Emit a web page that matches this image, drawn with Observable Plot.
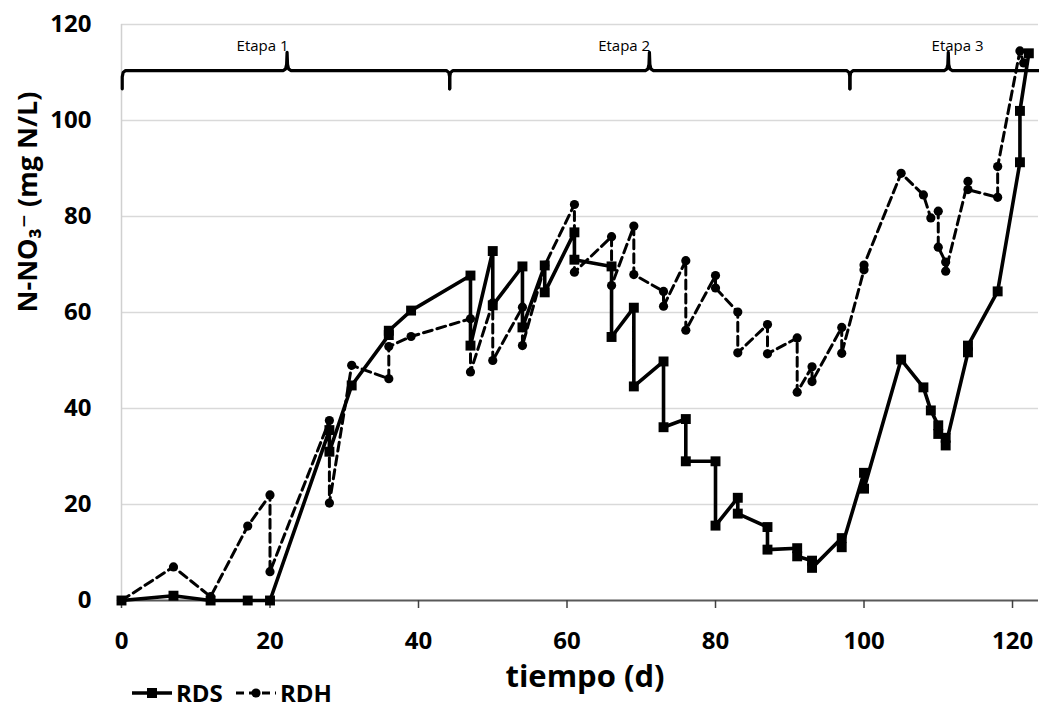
<!DOCTYPE html>
<html>
<head>
<meta charset="utf-8">
<script src="https://cdn.jsdelivr.net/npm/d3@7"></script>
<script src="https://cdn.jsdelivr.net/npm/@observablehq/plot@0.6"></script>
<style>
  body { margin: 0; background: #fff; }
  #wrap { position: relative; width: 1039px; height: 709px; }
  #legend { position: absolute; left: 0; top: 670px; line-height: 0; }
  #legend svg { display: block; overflow: visible; }
</style>
</head>
<body>
<div id="wrap"></div>
<script>
// ---- Data ----
const seriesNames = ["RDS", "RDH"];

const rdsDays = [0, 7, 12, 17, 20, 28, 28, 31, 36, 36, 39, 47, 47, 50, 50, 54, 54, 57, 57, 61, 61, 66, 66, 69, 69, 73, 73, 76, 76, 80, 80, 83, 83, 87, 87, 91, 91, 93, 93, 97, 97, 100, 100, 105, 108, 109, 110, 110, 111, 111, 114, 114, 118, 121, 121, 122.2];
const rdsValues = [0, 1, 0, 0, 0, 35.5, 31, 44.8, 55.3, 56.2, 60.4, 67.7, 53.1, 72.8, 61.5, 69.6, 56.9, 69.8, 64.2, 76.7, 71, 69.6, 54.9, 61, 44.6, 49.8, 36.1, 37.8, 29, 29, 15.6, 21.4, 18.1, 15.3, 10.6, 10.9, 9.2, 8.3, 6.8, 13, 11.1, 26.6, 23.3, 50.2, 44.4, 39.6, 36.5, 34.7, 33.9, 32.3, 51.7, 53.1, 64.4, 91.3, 102, 114];

const rdhDays = [0, 7, 12, 17, 20, 20, 28, 28, 31, 36, 36, 39, 47, 47, 50, 50, 54, 54, 57, 61, 61, 66, 66, 69, 69, 73, 73, 76, 76, 80, 80, 83, 83, 87, 87, 91, 91, 93, 93, 97, 97, 100, 100, 105, 108, 109, 110, 110, 111, 111, 114, 114, 118, 118, 121, 121.5];
const rdhValues = [0, 7, 0.8, 15.5, 22, 6, 37.5, 20.3, 49, 46.2, 52.9, 55, 58.7, 47.6, 62, 50, 61.1, 53.1, 69.8, 82.5, 68.4, 75.8, 65.6, 78, 67.9, 64.4, 61.3, 70.8, 56.3, 67.7, 65.1, 60.1, 51.6, 57.5, 51.4, 54.7, 43.4, 48.7, 45.6, 56.9, 51.5, 68.9, 69.9, 89, 84.5, 79.7, 81.1, 73.6, 70.5, 68.6, 87.3, 85.6, 84, 90.4, 114.5, 112];

const xTicks = [0, 20, 40, 60, 80, 100, 120];
const yTicks = [0, 20, 40, 60, 80, 100, 120];

// Stage annotations (braces)
const stageLabels = ["Etapa 1", "Etapa 2", "Etapa 3"];
const stageStart = [0.1, 44.2, 98.1];
const stageEnd = [44.2, 98.1, 127];
const stagePeak = [22.3, 71.1, 111.35];
const stageLabelX = [19.0, 67.7, 112.6];
const braceLevel = 110.4;
const stageLabelY = 115.5;

const xTitle = "tiempo (d)";
const yTitle = "N-NO₃⁻ (mg N/L)";

// ---- Tables ----
const rds = rdsDays.map((d, i) => ({day: d, value: rdsValues[i]}));
const rdh = rdhDays.map((d, i) => ({day: d, value: rdhValues[i]}));
const stages = stageLabels.map((label, i) => ({label, x: stageLabelX[i], y: stageLabelY}));

// brace outline built from stage bounds (shape offsets in data units)
const braces = [];
stageLabels.forEach((label, i) => {
  const s = stageStart[i], p = stagePeak[i], e = stageEnd[i], L = braceLevel;
  const pts = [
    [s, L - 3.8], [s, L - 1.3], [s + 0.12, L - 0.4], [s + 0.45, L],
    [p - 0.5, L], [p - 0.2, L + 0.35], [p - 0.06, L + 1.3], [p, L + 3.8],
    [p + 0.06, L + 1.3], [p + 0.2, L + 0.35], [p + 0.5, L],
    [e - 0.45, L], [e - 0.12, L - 0.4], [e, L - 1.3], [e, L - 3.8]
  ];
  pts.forEach(([x, y]) => braces.push({stage: label, x, y}));
});

const FONT = "'Open Sans', 'DejaVu Sans', sans-serif";

const chart = Plot.plot({
  width: 1039,
  height: 709,
  marginLeft: 121,
  marginRight: 1,
  marginTop: 24,
  marginBottom: 109,
  style: {fontFamily: FONT, background: "white", color: "black"},
  x: {domain: [0, 123.5]},
  y: {domain: [0, 120]},
  marks: [
    Plot.gridY(yTicks.filter(d => d > 0), {stroke: "#d9d9d9", strokeOpacity: 1, strokeWidth: 1.3}),
    Plot.ruleX([0], {stroke: "#d0d0d0", strokeWidth: 1.5}),
    Plot.ruleY([0], {stroke: "#595959", strokeWidth: 2}),
    Plot.axisX({ticks: xTicks, tickSize: 8, tickPadding: 23, fontSize: 24, fontWeight: "bold", label: null, stroke: "#404040", strokeWidth: 1.5, fill: "black"}),
    Plot.axisY({ticks: yTicks, tickSize: 0, tickPadding: 30, fontSize: 24, fontWeight: "bold", label: null, fill: "black"}),
    Plot.line(braces, {x: "x", y: "y", z: "stage", stroke: "black", strokeWidth: 3.2, strokeLinejoin: "round"}),
    Plot.text(stages, {x: "x", y: "y", text: "label", fontSize: 15, fill: "black"}),
    Plot.line(rdh, {x: "day", y: "value", stroke: "black", strokeWidth: 3, strokeDasharray: "9,5"}),
    Plot.dot(rdh, {x: "day", y: "value", r: 4.6, fill: "black", stroke: "none", symbol: "circle"}),
    Plot.line(rds, {x: "day", y: "value", stroke: "black", strokeWidth: 3.6}),
    Plot.dot(rds, {x: "day", y: "value", r: 5.6, fill: "black", stroke: "none", symbol: "square"}),
    Plot.text([yTitle], {frameAnchor: "left", rotate: -90, dx: -93, fontSize: 27, fontWeight: "bold", fill: "black"}),
    Plot.text([xTitle], {frameAnchor: "bottom", dx: 5, dy: 86, fontSize: 31, fontWeight: "bold", fill: "black"})
  ]
});

const wrap = document.getElementById("wrap");
wrap.appendChild(chart);

// ---- Legend (below plot area, bottom-left) ----
const legend = d3.select(wrap).append("div").attr("id", "legend")
  .append("svg").attr("width", 400).attr("height", 38)
  .style("font-family", FONT);
const entries = [
  {name: seriesNames[0], x0: 132, dash: null, sw: 3.6, sym: "square"},
  {name: seriesNames[1], x0: 236, dash: "8,5", sw: 3, sym: "circle"}
];
const cy = 23;
entries.forEach(e => {
  legend.append("line").attr("x1", e.x0).attr("x2", e.x0 + 40).attr("y1", cy).attr("y2", cy)
    .attr("stroke", "black").attr("stroke-width", e.sw).attr("stroke-dasharray", e.dash);
  if (e.sym === "square") {
    legend.append("rect").attr("x", e.x0 + 15).attr("y", cy - 5).attr("width", 10).attr("height", 10).attr("fill", "black");
  } else {
    legend.append("circle").attr("cx", e.x0 + 20).attr("cy", cy).attr("r", 4.6).attr("fill", "black");
  }
  legend.append("text").attr("x", e.x0 + 44).attr("y", cy).attr("dy", "0.36em")
    .attr("font-size", 24).attr("font-weight", "bold").attr("fill", "black").text(e.name);
});
</script>
</body>
</html>
